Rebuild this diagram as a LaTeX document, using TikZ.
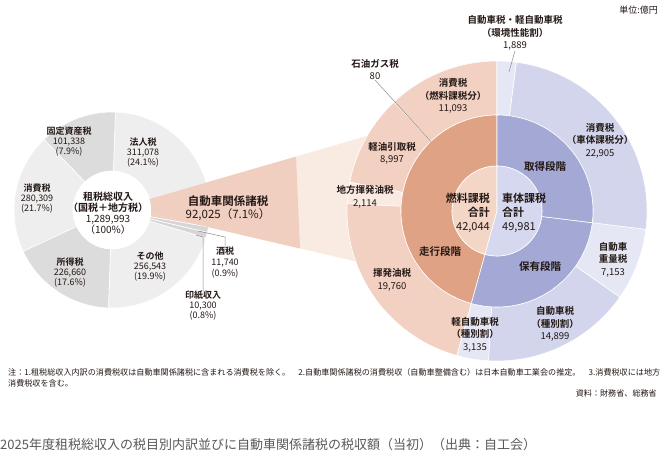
\documentclass[tikz,border=0pt]{standalone}
\usepackage{fontspec}
\setmainfont{Noto Sans CJK JP}[BoldFont={Noto Sans CJK JP Bold}]
\definecolor{txt}{HTML}{231815}
\definecolor{capgray}{HTML}{595959}
\definecolor{leadgray}{HTML}{8C8C8C}
\definecolor{grayA}{HTML}{EEEEEE}
\definecolor{grayB}{HTML}{DCDCDC}
\definecolor{sliver}{HTML}{D6D6D6}
\definecolor{funnel}{HTML}{F1CFC0}
\definecolor{cream}{HTML}{F9EBE2}
\definecolor{fuelout}{HTML}{F2D1C2}
\definecolor{fuelmid}{HTML}{E0A285}
\definecolor{fuelin}{HTML}{F4D6C7}
\definecolor{carA}{HTML}{D2D5EC}
\definecolor{carB}{HTML}{E5E7F4}
\definecolor{carmid}{HTML}{A3A8D4}
\definecolor{carin}{HTML}{D5D8EE}
\newcommand{\ringpart}[5]{\fill[fill=#5, draw=white, line width=0.6pt] (#1:#3) arc[start angle=#1, end angle=#2, radius=#3] -- (#2:#4) arc[start angle=#2, end angle=#1, radius=#4] -- cycle;}
\newcommand{\piepart}[4]{\fill[fill=#4, draw=white, line width=0.6pt] (0,0) -- (#1:#3) arc[start angle=#1, end angle=#2, radius=#3] -- cycle;}
\begin{document}
\begin{tikzpicture}[x=1pt, y=1pt,
    lbl/.style={align=center, inner sep=0pt, text=txt, font=\fontsize{9}{10}\selectfont},
    rlbl/.style={align=center, inner sep=0pt, text=txt, font=\fontsize{9.5}{12.5}\selectfont},
    stage/.style={inner sep=0pt, text=txt, font=\bfseries\fontsize{10.5}{12}\selectfont},
    sumlbl/.style={inner sep=0pt, text=txt, font=\fontsize{11}{14}\selectfont},
    leader/.style={draw=leadgray, line width=0.5pt}]
  \useasboundingbox (0,0) rectangle (667,-461);
  \fill[white] (0,0) rectangle (667,-461);
  \begin{scope}[shift={(112,-210)}]
    \foreach \a/\b/\c in {-10/16/funnel, 16/88/grayA, 88/134/grayB, 134/205/grayA, 205/268/grayB, 268/343.5/grayA, 343.5/346.8/sliver, 346.8/350/sliver}
      {\ringpart{\a}{\b}{39}{98}{\c}}
  \end{scope}
  \fill[cream] (122,-207) -- (420,-120.6) -- (420,-276.3) -- cycle;
  \fill[funnel] (122,-207) -- (296,-156.6) -- (300,-248.5) -- cycle;
  \fill[white] (112,-210) circle[radius=39];
  \begin{scope}[shift={(497,-211)}]
    \foreach \a/\b/\c in {90/133.4/fuelout, 133.4/168.9/fuelout, 168.9/177.2/cream, 177.2/254.5/fuelout, 254.5/266.8/carB, 266.8/325/carA, 325/353/carB, -7/82.6/carA, 82.6/90/carB}
      {\ringpart{\a}{\b}{96}{150}{\c}}
    \foreach \a/\b/\c in {90/254.5/fuelmid, 254.5/353/carmid, 353/450/carmid}
      {\ringpart{\a}{\b}{45}{96}{\c}}
    \piepart{90}{254.5}{45}{fuelin}
    \piepart{254.5}{450}{45}{carin}
  \end{scope}

  \node[lbl] (kotei) at (69,-142) {\textbf{固定資産税}\\101,338\\(7.9\%)};
  \node[lbl] (hojin) at (143,-153) {\textbf{法人税}\\311,078\\(24.1\%)};
  \node[lbl] (shohi) at (37,-199) {\textbf{消費税}\\280,309\\(21.7\%)};
  \node[lbl, font=\fontsize{10}{11}\selectfont] (total) at (108,-213) {\textbf{租税総収入}\\\textbf{（国税＋地方税）}\\1,289,993\\（100\%）};
  \node[lbl] (shotoku) at (70,-273) {\textbf{所得税}\\226,660\\(17.6\%)};
  \node[lbl] (sonota) at (150,-267) {\textbf{その他}\\256,543\\(19.9\%)};
  \node[lbl, font=\fontsize{11.5}{13}\selectfont] (autotax) at (228,-208.5) {\textbf{自動車関係諸税}\\92,025（7.1\%）};
  \node[lbl, anchor=north, font=\fontsize{9}{11}\selectfont] (sake) at (225,-247) {\textbf{酒税}\\11,740\\(0.9\%)};
  \node[lbl, anchor=north] (inshi) at (203,-291) {\textbf{印紙収入}\\10,300\\(0.8\%)};
  \coordinate (sakeP) at (198,-231);
  \coordinate (sakeK) at (225,-237);
  \coordinate (inshiP) at (196,-235);
  \coordinate (inshiK) at (203,-237);
  \draw[leader] (sakeP) -- (sakeK) -- (sake.north);
  \draw[leader] (inshiP) -- (inshiK) -- (inshi.north);

  \node[rlbl] (kankyo) at (515,-33) {\textbf{自動車税・軽自動車税}\\\textbf{（環境性能割）}\\1,889};
  \node[rlbl] (sekiyu) at (375,-69.5) {\textbf{石油ガス税}\\80};
  \node[rlbl] (shohiF) at (453,-96) {\textbf{消費税}\\\textbf{（燃料課税分）}\\11,093};
  \node[rlbl] (keiyu) at (392,-153.5) {\textbf{軽油引取税}\\8,997};
  \node[rlbl] (shohiC) at (600,-140.5) {\textbf{消費税}\\\textbf{（車体課税分）}\\22,905};
  \node[rlbl] (chiho) at (365,-197) {\textbf{地方揮発油税}\\2,114};
  \node[rlbl] (kihatsu) at (392,-280) {\textbf{揮発油税}\\19,760};
  \node[rlbl] (juryo) at (613,-259.5) {\textbf{自動車}\\\textbf{重量税}\\7,153};
  \node[rlbl] (jidosha) at (555,-324) {\textbf{自動車税}\\\textbf{（種別割）}\\14,899};
  \node[rlbl] (kei) at (475,-334.5) {\textbf{軽自動車税}\\\textbf{（種別割）}\\3,135};
  \coordinate (gasP) at (430.9,-141.4);
  \coordinate (kankyoP) at (509,-72);
  \draw[leader] (sekiyu.south) -- (gasP);
  \draw[leader] (kankyo.south) -- (kankyoP);

  \node[stage] (shutoku) at (545,-167) {取得段階};
  \node[stage] (soko) at (440,-252) {走行段階};
  \node[stage] (hoyu) at (540,-267) {保有段階};
  \node[sumlbl, anchor=east, align=right] (fuelsum) at (490,-213) {\textbf{燃料課税}\\\textbf{合計}\\42,044};
  \node[sumlbl, anchor=west, align=left] (carsum) at (502,-213) {\textbf{車体課税}\\\textbf{合計}\\49,981};

  \node[anchor=east, inner sep=0pt, text=txt, font=\fontsize{9}{10}\selectfont] (unit) at (658,-10) {単位:億円};
  \node[anchor=west, inner sep=0pt, text=txt, font=\fontsize{8.1}{10}\selectfont] (note1) at (8,-372) {注：1.租税総収入内訳の消費税収は自動車関係諸税に含まれる消費税を除く。　2.自動車関係諸税の消費税収（自動車整備含む）は日本自動車工業会の推定。　3.消費税収には地方};
  \node[anchor=west, inner sep=0pt, text=txt, font=\fontsize{8.1}{10}\selectfont] (note2) at (8,-383) {消費税収を含む。};
  \node[anchor=east, inner sep=0pt, text=txt, font=\fontsize{8.1}{10}\selectfont] (source) at (657,-393) {資料：財務省、総務省};
  \node[anchor=west, inner sep=0pt, text=capgray, font=\fontsize{13}{15}\selectfont] (caption) at (0,-445) {2025年度租税総収入の税目別内訳並びに自動車関係諸税の税収額（当初）（出典：自工会）};
\end{tikzpicture}
\end{document}
